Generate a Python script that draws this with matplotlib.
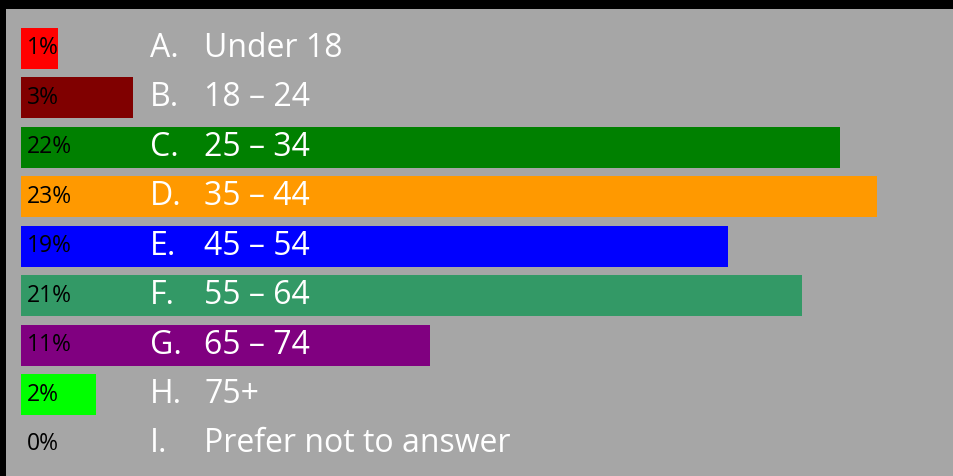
import matplotlib
matplotlib.use("Agg")
import matplotlib.pyplot as plt
from matplotlib.patches import Rectangle

letters = ["A.", "B.", "C.", "D.", "E.", "F.", "G.", "H.", "I."]
categories = ["Under 18", "18 \u2013 24", "25 \u2013 34", "35 \u2013 44", "45 \u2013 54",
              "55 \u2013 64", "65 \u2013 74", "75+", "Prefer not to answer"]
percents = [1, 3, 22, 23, 19, 21, 11, 2, 0]
colors = ["#FF0000", "#800000", "#008000", "#FF9900", "#0000FF",
          "#339966", "#800080", "#00FF00", "#A6A6A6"]

W, H = 954, 476
fig = plt.figure(figsize=(W / 100, H / 100), dpi=100, facecolor="#A6A6A6")
# black strip at top and left
fig.add_artist(Rectangle((0, 1 - 9 / H), 1, 9 / H, transform=fig.transFigure,
                         facecolor="black", edgecolor="none"))
fig.add_artist(Rectangle((0, 0), 6 / W, 1, transform=fig.transFigure,
                         facecolor="black", edgecolor="none"))

ax = fig.add_axes([6 / W, 0, 1 - 6 / W, (H - 9) / H])
ax.set_facecolor("#A6A6A6")

px_per_pct = 37.2
row_px = 49.43
ax.set_xlim((6 - 20) / px_per_pct, (W - 20) / px_per_pct)
ax.set_ylim((476 - 48.5) / row_px, (9 - 48.5) / row_px)

ypos = list(range(len(categories)))
ax.barh(ypos, percents, height=41 / row_px, color=colors, left=0.03)

font = "Open Sans"
for i in ypos:
    ax.annotate(f"{percents[i]}%", xy=(27, i), xycoords=("figure pixels", "data"),
                va="center", ha="left", fontsize=16.5, color="black", family=font)
    ax.annotate(letters[i], xy=(150, i), xycoords=("figure pixels", "data"),
                va="center", ha="left", fontsize=23, color="white", family=font)
    ax.annotate(categories[i], xy=(204, i), xycoords=("figure pixels", "data"),
                va="center", ha="left", fontsize=23, color="white", family=font)

ax.set_xticks([])
ax.set_yticks([])
for s in ax.spines.values():
    s.set_visible(False)
fig.savefig("out.png", dpi=100, facecolor=fig.get_facecolor())
